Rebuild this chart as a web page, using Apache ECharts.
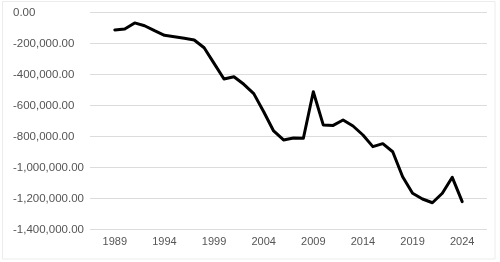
<!DOCTYPE html>
<html>
<head>
<meta charset="utf-8">
<script src="https://cdn.jsdelivr.net/npm/echarts@6/dist/echarts.min.js"></script>
<style>html,body{margin:0;padding:0;background:#fff;}#c{width:500px;height:262px;}</style>
</head>
<body>
<div id="c"></div>
<script>
const years = [1989,1990,1991,1992,1993,1994,1995,1996,1997,1998,1999,2000,2001,2002,2003,2004,2005,2006,2007,2008,2009,2010,2011,2012,2013,2014,2015,2016,2017,2018,2019,2020,2021,2022,2023,2024];
const values = [-111000,-105000,-66000,-84000,-116000,-146000,-155000,-165000,-176000,-226000,-327000,-428000,-413000,-462000,-522000,-639000,-763000,-821000,-808000,-810000,-510000,-724000,-727000,-692000,-731000,-789000,-864000,-845000,-897000,-1058000,-1165000,-1202000,-1226000,-1165000,-1062000,-1219000];
const xTickLabels = [1989,1994,1999,2004,2009,2014,2019,2024];
const yTicks = [0,-200000,-400000,-600000,-800000,-1000000,-1200000,-1400000];

const chart = echarts.init(document.getElementById('c'), null, {renderer:'canvas'});
const fmt = v => v.toLocaleString('en-US',{minimumFractionDigits:2,maximumFractionDigits:2});
chart.setOption({
  animation:false,
  backgroundColor:'#fff',
  graphic:[{type:'rect',shape:{x:2.5,y:1.5,width:492.5,height:257.5},style:{fill:'none',stroke:'#ececec',lineWidth:1},silent:true}],
  grid:{left:90,right:13,top:12.7,bottom:32.3,containLabel:false},
  xAxis:{
    type:'value', min:1986.5, max:2026.5,
    splitLine:{show:false}, axisLine:{show:false}, axisTick:{show:false},
    axisLabel:{customValues:xTickLabels, color:'#555', fontSize:11, fontFamily:'Liberation Sans, Arial, sans-serif', margin:7, formatter:v=>String(v)}
  },
  yAxis:{
    type:'value', min:-1400000, max:0, interval:200000,
    axisLine:{show:false}, axisTick:{show:false},
    splitLine:{show:true, lineStyle:{color:'#dcdcdc', width:1}},
    axisLabel:{align:'left', margin:77, color:'#555', fontSize:11.5, fontFamily:'Liberation Sans, Arial, sans-serif', formatter:fmt}
  },
  series:[{
    type:'line', data:years.map((y,i)=>[y,values[i]]),
    showSymbol:false, smooth:false,
    lineStyle:{color:'#000', width:3, join:'round', cap:'round'}
  }]
});
</script>
</body>
</html>
